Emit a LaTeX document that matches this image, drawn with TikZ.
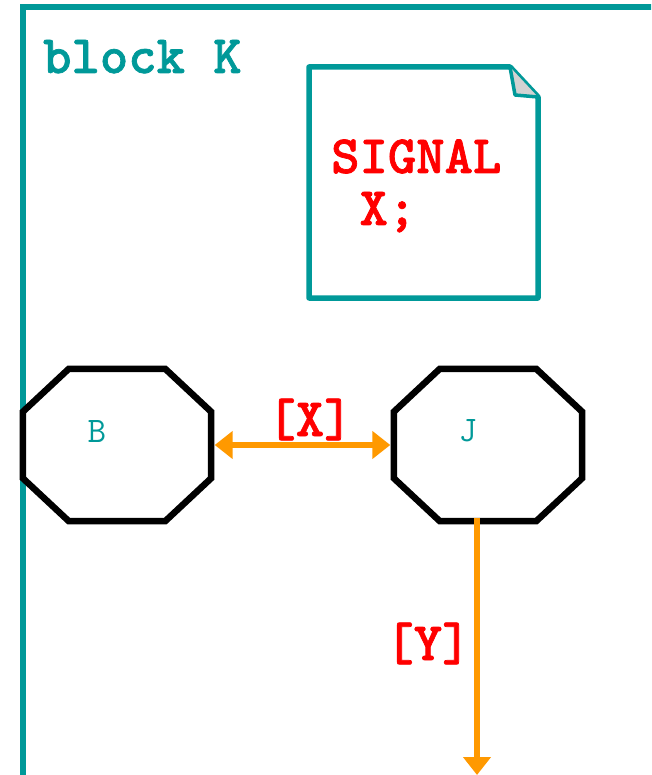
\documentclass[tikz,border=0pt]{standalone}
\usepackage{fontspec}
\usetikzlibrary{arrows.meta}
\newfontfamily\cbold{lmmonolt10-bold.otf}[FakeBold=1.3]
\definecolor{teal1}{HTML}{009999}
\definecolor{red1}{HTML}{FF0000}
\definecolor{orange1}{HTML}{FF9900}
\tikzset{
  frameline/.style={draw=teal1,line width=5.7pt},
  notebox/.style={draw=teal1,line width=5.5pt,line join=round,fill=white},
  octbox/.style={draw=black,line width=6.5pt,line join=miter},
  procname/.style={font=\fontsize{36}{36}\selectfont\ttfamily,text=teal1,inner sep=0pt},
  boldtxt/.style={font=\fontsize{54}{54}\selectfont\cbold,inner sep=0pt},
  sigarrow/.style={draw=orange1,line width=5.3pt,-{Triangle[length=18pt,width=27pt]}},
  sigarrow2/.style={draw=orange1,line width=5.3pt,{Triangle[length=18pt,width=27pt]}-{Triangle[length=18pt,width=27pt]}},
  hole/.style={minimum width=188pt,minimum height=152pt,inner sep=0pt,draw=none},
}
\begin{document}
\begin{tikzpicture}[x=1pt,y=-1pt]
\useasboundingbox (0,0) rectangle (651,775);
\clip (0,0) rectangle (651,775);
\fill[white] (0,0) rectangle (651,775);
% frame
\draw[frameline] (23,800) -- (23,7) -- (700,7);
\node[boldtxt,text=teal1,anchor=base west] (title) at (43,73) {block K};
% note
\draw[notebox] (309,67) -- (510,67) -- (538,97) -- (538,298) -- (309,298) -- cycle;
\draw[draw=teal1,line width=3.5pt,line join=round,fill=gray!35] (510,67) -- (515,95) -- (538,97);
\node[boldtxt,text=red1,anchor=base west] (sig1) at (331,173) {SIGNAL};
\node[boldtxt,text=red1,anchor=base west] (sig2) at (331,225) {\ X;};
% octagons
\node[hole] (B) at (117,445) {};
\node[hole] (J) at (488,445) {};
\foreach \n in {B,J}{
  \draw[octbox] ([xshift=46pt]\n.north west) -- ([xshift=-46pt]\n.north east) -- ([yshift=-43pt]\n.north east) -- ([yshift=43pt]\n.south east) -- ([xshift=-46pt]\n.south east) -- ([xshift=46pt]\n.south west) -- ([yshift=43pt]\n.south west) -- ([yshift=-43pt]\n.north west) -- cycle;
}
\node[procname] (Bl) at (97,431) {B};
\node[procname] (Jl) at (468,431) {J};
% connectors
\draw[sigarrow2] ([xshift=3.5pt]B.east) -- ([xshift=-3.5pt]J.west);
\node[boldtxt,text=red1,anchor=base] (lx) at (310,436) {[X]};
\coordinate (yend) at (477,775);
\draw[sigarrow] ([yshift=3pt]J.south -| yend) -- (yend);
\node[boldtxt,text=red1,anchor=base] (ly) at (428,660) {[Y]};
\end{tikzpicture}
\end{document}
